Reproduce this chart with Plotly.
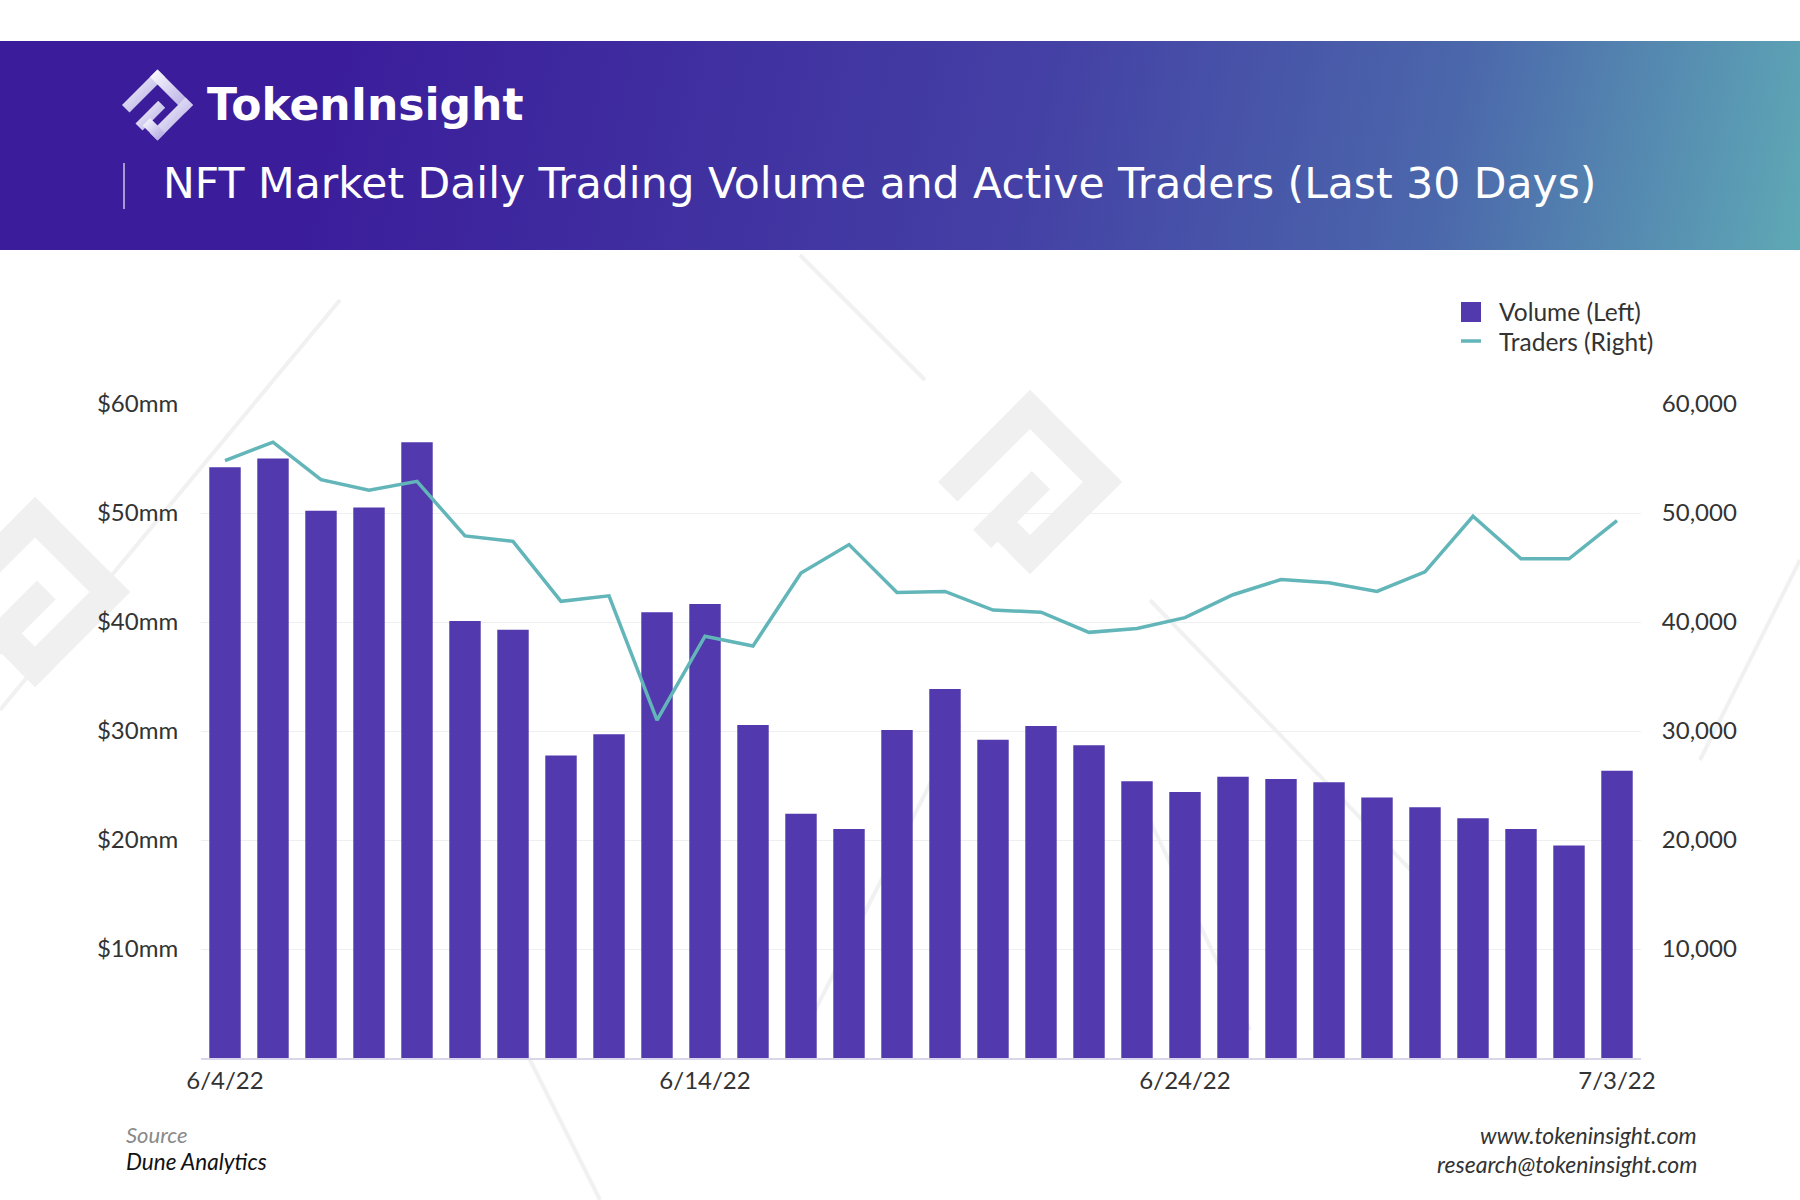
import base64
import plotly.graph_objects as go

# ---------------- data ----------------
dates = ["6/4/22", "6/5/22", "6/6/22", "6/7/22", "6/8/22", "6/9/22", "6/10/22", "6/11/22",
         "6/12/22", "6/13/22", "6/14/22", "6/15/22", "6/16/22", "6/17/22", "6/18/22", "6/19/22",
         "6/20/22", "6/21/22", "6/22/22", "6/23/22", "6/24/22", "6/25/22", "6/26/22", "6/27/22",
         "6/28/22", "6/29/22", "6/30/22", "7/1/22", "7/2/22", "7/3/22"]
volume_mm = [54.2, 55.0, 50.2, 50.5, 56.5, 40.1, 39.3, 27.75, 29.7, 40.9,
             41.65, 30.55, 22.4, 21.0, 30.1, 33.85, 29.2, 30.45, 28.7, 25.4,
             24.4, 25.8, 25.6, 25.3, 23.9, 23.0, 22.0, 21.0, 19.5, 26.35]
traders = [54800, 56500, 53060, 52100, 52900, 47900, 47400, 41900, 42400, 31000,
           38700, 37800, 44500, 47100, 42700, 42800, 41100, 40900, 39050, 39400,
           40400, 42500, 43900, 43600, 42800, 44600, 49700, 45800, 45800, 49300]
x_tickvals = ["6/4/22", "6/14/22", "6/24/22", "7/3/22"]
left_tickvals = [10, 20, 30, 40, 50, 60]
left_ticktext = ["$10mm", "$20mm", "$30mm", "$40mm", "$50mm", "$60mm"]
right_tickvals = [10000, 20000, 30000, 40000, 50000, 60000]
right_ticktext = ["10,000", "20,000", "30,000", "40,000", "50,000", "60,000"]

TITLE = "NFT Market Daily Trading Volume and Active Traders (Last 30 Days)"
BAR_COLOR = "#5239ae"
LINE_COLOR = "#62b5b8"

# ---------------- geometry (pixels) ----------------
W_PX, H_PX = 1800, 1200
L, R, T, B = 201, 1641, 404, 1058
PW, PH = R - L, B - T


def px(x):
    return (x - L) / PW


def py(y):
    return (B - y) / PH


# ---------------- decorative svg (header band, logo, watermark) ----------------
def band(p, q, n, t):
    k = 2 ** -0.5
    nx, ny = n[0] * k * t, n[1] * k * t
    return [p, q, (q[0] + nx, q[1] + ny), (p[0] + nx, p[1] + ny)]


LOGO_BANDS = [
    band((-1, 0), (0, -1), (1, 1), 0.30),
    band((0, -1), (1, 0), (-1, 1), 0.30),
    band((1, 0), (0, 1), (-1, -1), 0.30),
    band((-0.62, 0.52), (0.02, -0.12), (1, 1), 0.28),
    band((0, 1), (-0.42, 0.58), (1, -1), 0.30),
]


def logo_svg(cx, cy, s, fill, opacity=1.0):
    out = []
    for pts in LOGO_BANDS:
        d = " ".join(f"{cx + u * s:.1f},{cy + v * s:.1f}" for u, v in pts)
        out.append(f'<polygon points="{d}" fill="{fill}" opacity="{opacity}"/>')
    return "".join(out)


wm_lines = [((340, 300), (0, 710)), ((800, 255), (925, 380)), ((1150, 600), (1430, 890)),
            ((960, 725), (800, 1040)), ((1140, 800), (1250, 1030)), ((1800, 560), (1700, 760)),
            ((600, 1200), (520, 1040))]
lines_svg = "".join(
    f'<line x1="{a[0]}" y1="{a[1]}" x2="{b[0]}" y2="{b[1]}" stroke="#f1f1f1" stroke-width="4"/>'
    for a, b in wm_lines)

svg = f'''<svg xmlns="http://www.w3.org/2000/svg" width="{W_PX}" height="{H_PX}" viewBox="0 0 {W_PX} {H_PX}">
<defs>
<linearGradient id="hg" gradientUnits="userSpaceOnUse" x1="350" y1="0" x2="1850" y2="320">
<stop offset="0" stop-color="#3b1d9b"/>
<stop offset="0.45" stop-color="#4440a5"/>
<stop offset="0.72" stop-color="#4b67ab"/>
<stop offset="1" stop-color="#62b4b7"/>
</linearGradient>
<linearGradient id="lg" x1="0" y1="0" x2="1" y2="1">
<stop offset="0" stop-color="#ffffff"/>
<stop offset="1" stop-color="#a99fe0"/>
</linearGradient>
</defs>
{lines_svg}
{logo_svg(1030, 482, 92, "#f0f0f0")}
{logo_svg(35, 592, 95, "#f0f0f0")}
<rect x="0" y="41" width="{W_PX}" height="209" fill="url(#hg)"/>
{logo_svg(157.5, 105, 35.5, "url(#lg)")}
<line x1="124" y1="163" x2="124" y2="209" stroke="#ffffff" stroke-opacity="0.55" stroke-width="2"/>
</svg>'''
svg_uri = "data:image/svg+xml;base64," + base64.b64encode(svg.encode()).decode()

# ---------------- figure ----------------
fig = go.Figure()
fig.add_trace(go.Bar(x=dates, y=volume_mm, name="Volume (Left)", marker_color=BAR_COLOR,
                     marker_line_width=0, showlegend=False))
fig.add_trace(go.Scatter(x=dates, y=traders, name="Traders (Right)", yaxis="y2", mode="lines",
                         line=dict(color=LINE_COLOR, width=3.5), showlegend=False))

AX_FONT = dict(family="Lato, 'Noto Sans', sans-serif", size=24, color="#333333")
TXT = "Lato, sans-serif"

fig.update_layout(
    width=W_PX, height=H_PX,
    margin=dict(l=L, r=W_PX - R, t=T, b=H_PX - B, autoexpand=False),
    paper_bgcolor="white", plot_bgcolor="rgba(0,0,0,0)",
    bargap=0.345,
    xaxis=dict(type="category", tickmode="array", tickvals=x_tickvals, ticktext=x_tickvals,
               showgrid=False, showline=True, linecolor="#d9d6ec", linewidth=2,
               ticks="", tickfont=AX_FONT,
               range=[-0.5, len(dates) - 0.5], fixedrange=True),
    yaxis=dict(range=[0, 60], tickmode="array", tickvals=left_tickvals, ticktext=left_ticktext,
               showgrid=True, gridcolor="#efefef", gridwidth=1, zeroline=False,
               ticks="outside", ticklen=17, tickcolor="rgba(0,0,0,0)", tickfont=AX_FONT,
               showline=False),
    yaxis2=dict(range=[0, 60000], overlaying="y", side="right", tickmode="array",
                tickvals=right_tickvals, ticktext=right_ticktext, showgrid=False, zeroline=False,
                ticks="outside", ticklen=15, tickcolor="rgba(0,0,0,0)", tickfont=AX_FONT,
                showline=False),
    images=[dict(source=svg_uri, xref="paper", yref="paper", x=px(0), y=py(0),
                 sizex=W_PX / PW, sizey=H_PX / PH, xanchor="left", yanchor="top",
                 sizing="stretch", layer="below")],
)

# manual legend
fig.add_shape(type="rect", xref="paper", yref="paper", x0=px(1461), x1=px(1481),
              y0=py(322), y1=py(302), fillcolor=BAR_COLOR, line_width=0)
fig.add_shape(type="line", xref="paper", yref="paper", x0=px(1461), x1=px(1481),
              y0=py(341), y1=py(341), line=dict(color=LINE_COLOR, width=3.5))

annos = [
    dict(text="Volume (Left)", x=px(1497), y=py(311), xanchor="left", yanchor="middle",
         font=dict(family=TXT, size=24.5, color="#333333")),
    dict(text="Traders (Right)", x=px(1497), y=py(341), xanchor="left", yanchor="middle",
         font=dict(family=TXT, size=24.5, color="#333333")),
    dict(text="<b>TokenInsight</b>", x=px(205), y=py(104), xanchor="left", yanchor="middle",
         font=dict(family="'DejaVu Sans', sans-serif", size=44, color="white")),
    dict(text=TITLE, x=px(161), y=py(184), xanchor="left", yanchor="middle",
         font=dict(family="'DejaVu Sans', sans-serif", size=42.5, color="white")),
    dict(text="Source", x=px(124), y=py(1134), xanchor="left", yanchor="middle",
         font=dict(family=TXT, size=22, color="#8a8a8a", style="italic")),
    dict(text="Dune Analytics", x=px(124), y=py(1161), xanchor="left", yanchor="middle",
         font=dict(family=TXT, size=22.5, color="#111111", style="italic")),
    dict(text="www.tokeninsight.com", x=px(1699), y=py(1135), xanchor="right",
         yanchor="middle",
         font=dict(family=TXT, size=23, color="#333333", style="italic")),
    dict(text="research@tokeninsight.com", x=px(1699), y=py(1164), xanchor="right",
         yanchor="middle",
         font=dict(family=TXT, size=23, color="#333333", style="italic")),
]
for a in annos:
    fig.add_annotation(xref="paper", yref="paper", showarrow=False, **a)

fig.write_html("out.html", config={"displayModeBar": False},
               post_script="document.body.style.margin='0';document.body.style.overflow='hidden';")
